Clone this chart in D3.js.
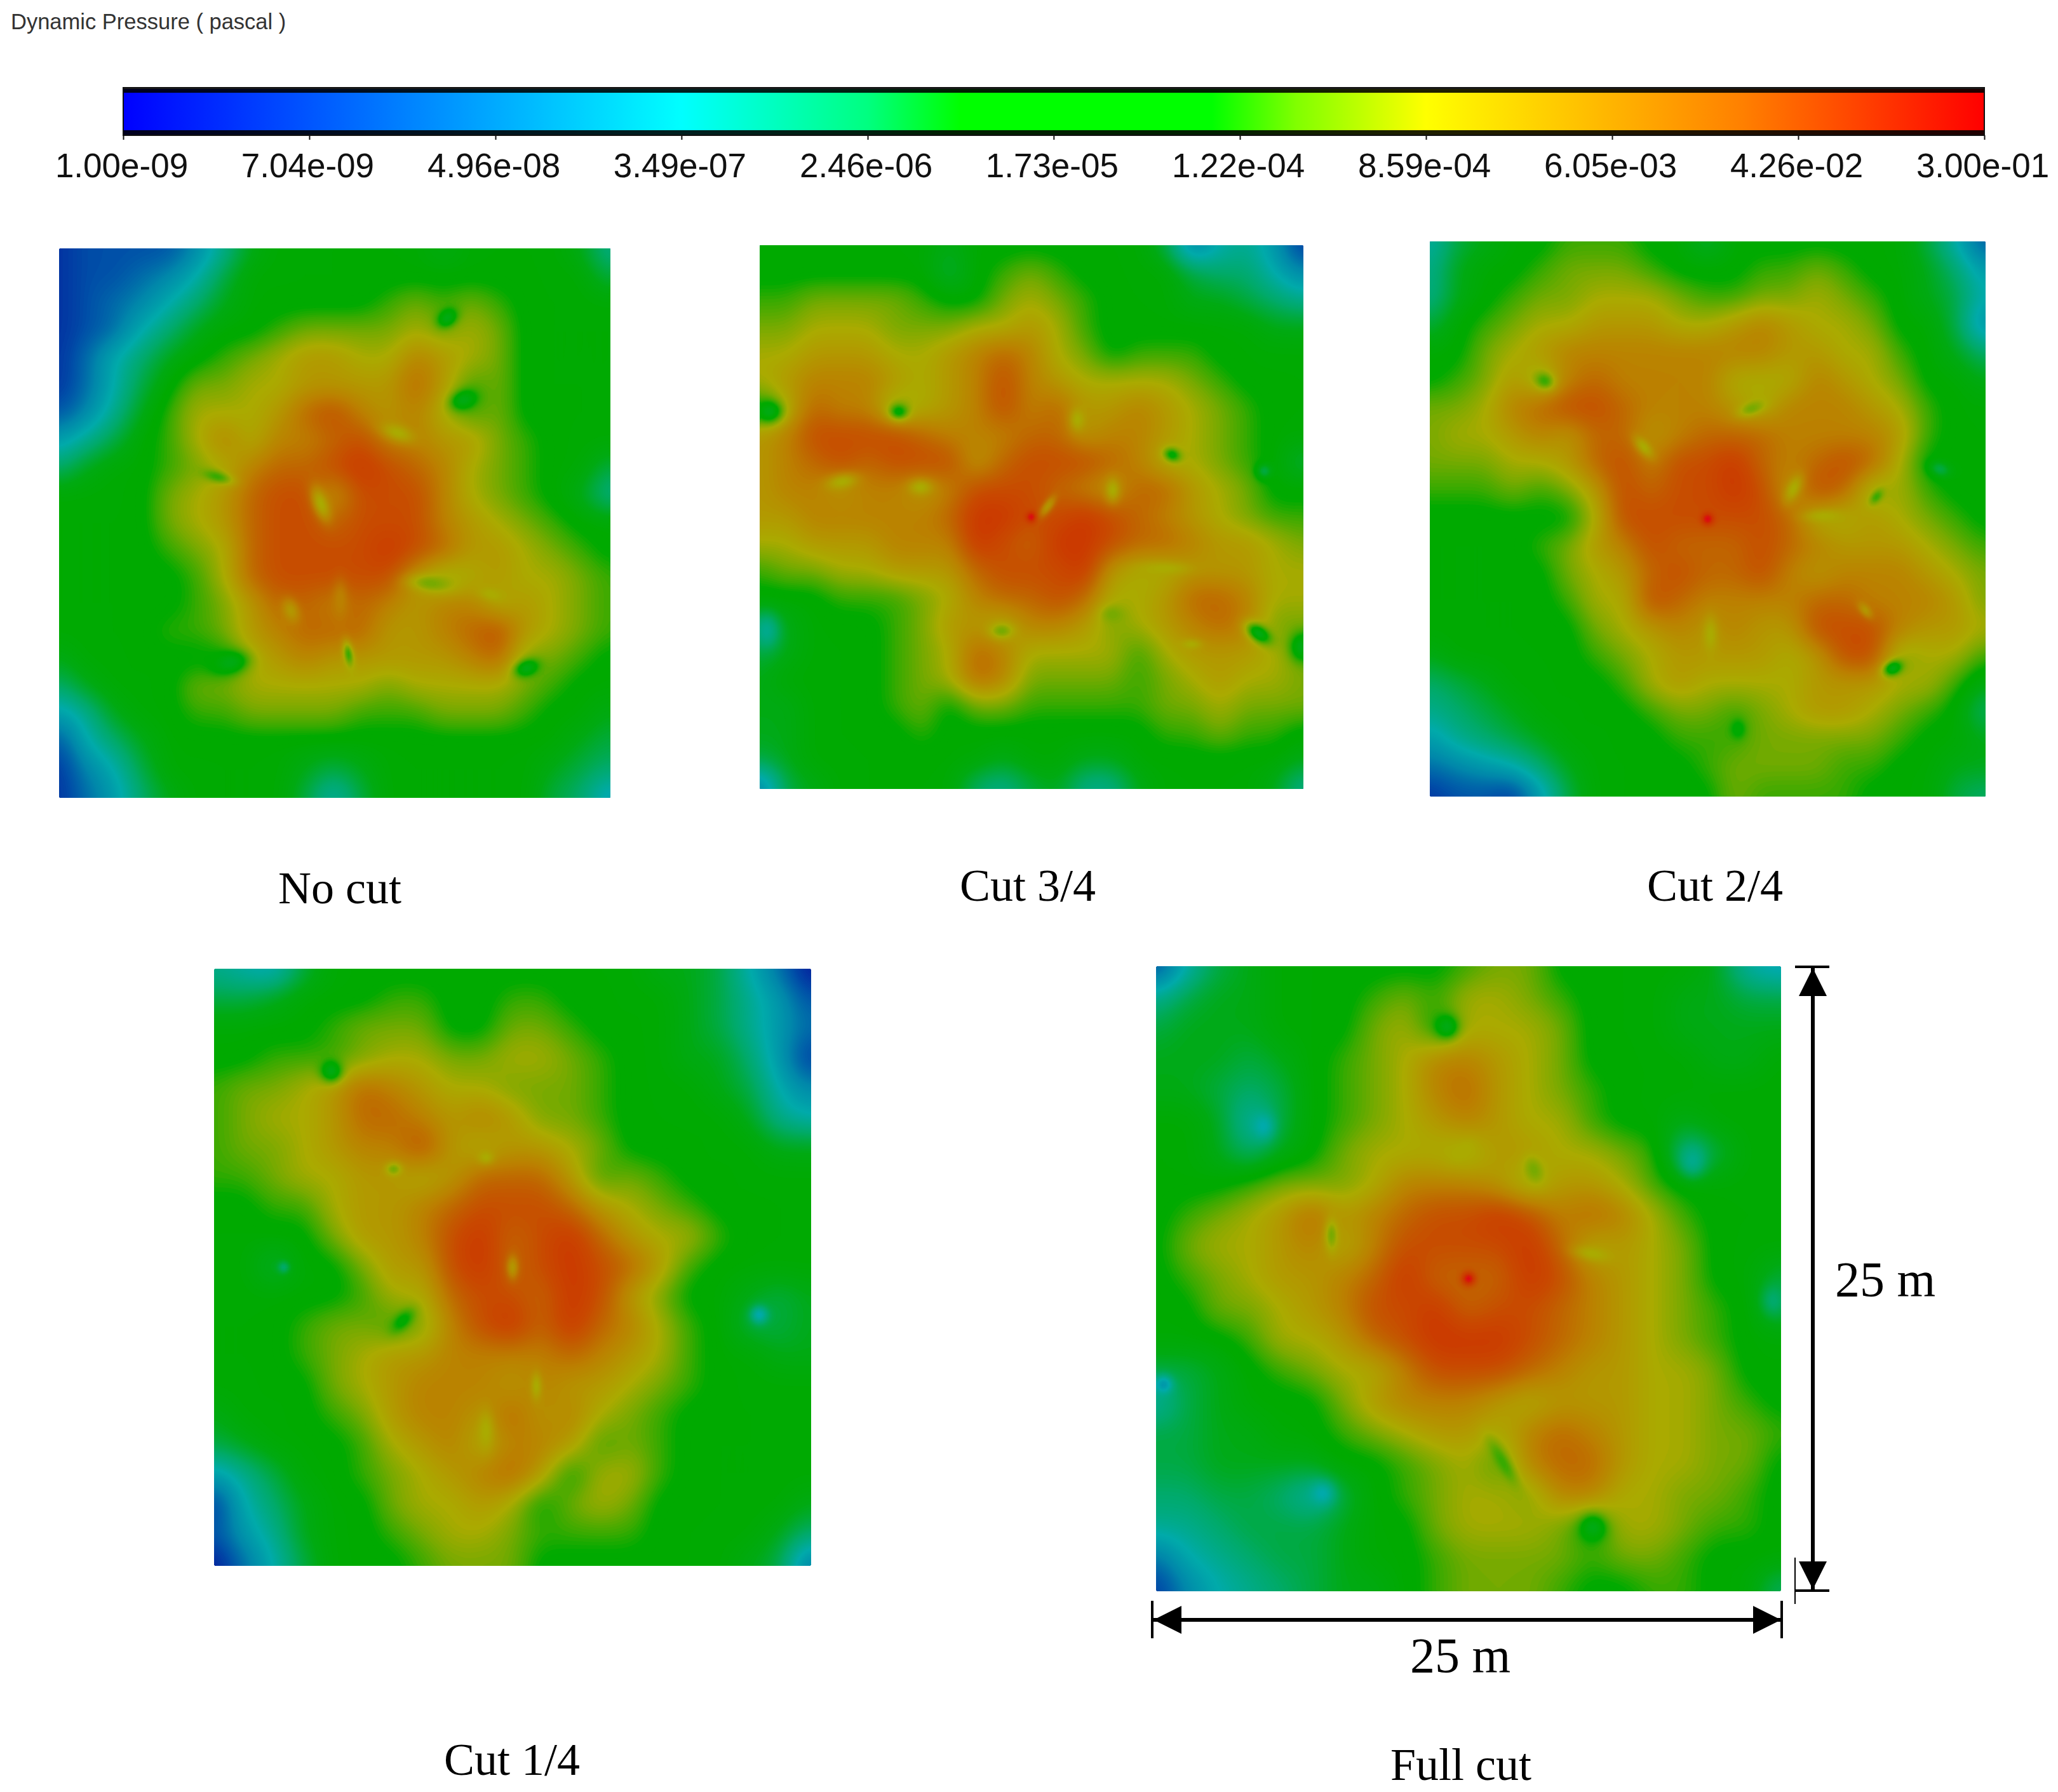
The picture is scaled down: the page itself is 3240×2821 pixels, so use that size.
<!DOCTYPE html>
<html><head><meta charset="utf-8">
<script src="https://cdn.jsdelivr.net/npm/d3@7"></script>
<style>html,body{margin:0;background:#fff}svg{display:block}</style></head>
<body><script>
const noCut=[
[1,2,2,2,2,4,7,10,11,11,11,11,11,11,10,11,11,11,11,10,7],
[1,2,2,3,4,6,9,11,11,11,11,11,11,11,11,11,11,11,11,11,9],
[1,2,3,4,6,8,10,11,11,11,11,11,12,13,12,13,12,11,11,11,11],
[1,2,3,6,8,10,11,11,12,13,13,13,13,14,13,14,13,11,11,11,11],
[1,3,6,8,10,11,12,13,14,15,15,14,14,16,15,14,13,11,11,11,11],
[1,3,6,9,11,13,13,14,14,15,15,15,15,17,15,12,13,11,11,11,11],
[2,4,7,10,12,14,14,14,15,17,18,16,15,16,14,12,13,11,11,11,11],
[5,7,9,11,12,14,16,14,16,16,17,18,16,16,15,15,13,12,11,11,11],
[8,10,11,11,12,13,14,16,17,17,18,19,18,17,16,14,13,12,11,11,9],
[11,11,11,11,13,14,15,17,18,18,15,18,18,18,16,14,13,12,11,10,7],
[11,11,11,11,13,14,15,17,18,18,17,18,18,18,16,15,14,13,12,11,11],
[11,11,11,11,12,13,14,17,18,18,18,18,19,18,17,15,15,14,13,12,11],
[11,11,11,11,11,12,14,17,18,18,18,18,18,15,13,14,15,14,14,13,12],
[11,11,11,11,11,12,13,15,17,17,16,17,16,15,16,16,14,15,14,13,12],
[11,11,11,11,12,12,13,15,16,17,17,17,15,15,16,17,18,15,14,13,12],
[10,11,11,11,11,11,11,14,15,16,15,15,15,15,15,16,17,13,13,12,11],
[8,10,11,11,11,13,13,14,14,14,14,14,13,14,14,14,14,13,12,11,11],
[5,7,10,11,11,12,12,13,13,13,13,12,12,12,13,13,13,12,11,11,10],
[2,6,8,10,11,11,11,11,11,11,11,11,11,11,11,11,11,11,11,10,9],
[1,4,6,9,11,11,11,11,11,10,9,10,11,11,11,11,11,11,10,9,8],
[1,3,5,8,10,11,11,11,11,9,6,9,11,11,11,11,11,11,9,8,5]];
const cut34=[
[11,11,11,11,11,11,11,10,11,11,11,11,11,11,11,9,3,6,7,5,1],
[11,11,11,11,11,11,11,9,11,12,13,12,11,11,11,11,9,8,8,6,4],
[12,12,13,13,13,13,12,11,11,13,14,13,12,11,11,11,10,10,9,8,7],
[13,13,14,14,14,13,13,13,14,14,15,14,12,11,11,11,11,11,11,10,10],
[14,14,15,15,15,14,14,15,16,17,16,14,13,11,12,12,12,11,11,11,11],
[14,15,16,16,16,15,14,15,16,18,16,15,14,14,14,14,13,12,11,11,11],
[11,14,17,16,16,13,14,15,16,18,16,17,15,15,16,15,14,13,12,11,11],
[15,16,18,18,18,18,17,16,16,16,17,17,15,16,16,15,14,13,12,11,11],
[15,16,17,18,17,18,18,18,15,17,18,18,18,17,16,14,14,13,12,11,9],
[15,16,16,15,16,16,15,16,18,18,18,17,16,15,17,17,15,14,13,11,11],
[15,15,16,16,16,16,16,17,19,19,18,18,19,18,17,16,15,14,13,12,12],
[14,14,15,15,15,16,16,16,19,18,17,19,19,18,17,17,16,15,15,14,13],
[12,13,13,14,14,15,15,15,17,18,18,18,19,15,14,14,15,15,15,14,14],
[11,11,11,12,12,12,13,14,16,17,17,18,17,14,14,15,17,17,16,14,14],
[9,10,11,11,11,12,13,15,15,14,16,16,15,13,14,15,16,17,16,13,13],
[9,10,11,11,11,12,13,14,17,16,14,14,14,14,12,14,15,15,15,14,13],
[10,11,11,11,11,12,13,14,17,16,13,13,13,13,12,13,14,15,14,14,13],
[10,10,11,11,11,12,13,11,13,13,12,12,12,12,12,13,13,14,13,13,13],
[10,10,11,11,11,11,12,11,11,11,11,11,11,11,11,12,12,13,12,12,11],
[9,10,11,11,11,11,11,11,11,10,11,11,10,10,11,11,11,11,11,11,10],
[3,9,10,11,11,11,11,11,8,7,9,10,7,7,10,11,11,11,11,10,7]];
const cut24=[
[6,9,10,11,11,12,12,12,11,11,9,11,11,11,11,11,11,11,9,6,2],
[7,10,11,11,12,13,13,13,12,11,11,11,12,12,13,12,11,11,10,8,5],
[7,10,11,12,13,13,14,14,14,13,12,12,13,13,14,13,12,11,10,9,6],
[9,11,12,13,14,14,15,15,15,14,14,15,16,15,14,14,13,11,11,9,4],
[11,11,13,14,15,16,16,16,16,16,16,16,16,15,15,14,14,12,11,10,8],
[11,12,13,15,13,16,17,16,16,16,16,14,14,14,16,15,14,13,11,11,10],
[13,13,14,16,17,18,18,17,16,16,16,15,14,16,16,16,15,14,12,11,11],
[13,14,14,15,16,15,17,17,15,16,17,17,17,16,16,16,16,15,12,11,11],
[13,13,13,14,14,15,17,18,16,18,18,19,17,16,17,18,17,14,11,11,11],
[12,12,12,13,12,13,15,18,17,18,18,19,18,15,18,17,13,14,12,11,11],
[11,11,11,11,11,11,14,18,18,18,18,18,18,17,14,14,15,14,13,12,11],
[11,11,11,11,12,13,15,16,18,17,17,17,18,17,16,15,15,15,14,13,12],
[11,11,11,11,11,13,14,15,17,18,17,17,18,16,15,16,16,16,15,14,13],
[11,11,11,11,11,12,14,14,18,17,16,16,16,16,17,17,16,16,16,15,13],
[11,11,11,11,11,11,13,14,15,16,15,16,15,15,18,18,18,16,15,15,14],
[10,11,11,11,11,11,12,13,14,15,15,15,15,14,15,18,18,13,14,14,12],
[8,9,10,11,11,11,11,12,14,15,14,14,14,14,15,15,15,14,14,12,10],
[7,8,9,10,11,11,11,11,12,13,13,12,13,14,15,15,14,13,12,11,8],
[5,7,8,9,10,11,11,11,11,12,12,12,13,13,13,13,13,12,11,11,10],
[3,4,5,6,8,10,11,11,11,11,12,13,13,13,13,12,12,11,11,10,10],
[1,2,2,1,5,9,11,11,11,11,11,13,12,12,12,12,11,11,11,9,8]];
const cut14=[
[7,6,5,9,11,11,11,11,11,11,11,11,11,11,11,10,10,9,6,3,0],
[9,9,10,11,11,11,12,12,11,11,12,12,11,11,11,11,10,9,7,5,2],
[11,11,11,11,12,13,13,13,11,11,13,13,12,11,11,11,10,9,7,5,3],
[11,11,12,12,12,13,14,14,13,13,14,14,13,12,11,11,10,10,8,5,1],
[12,13,13,14,15,17,16,15,14,14,13,13,13,12,11,11,11,10,9,6,4],
[12,13,14,14,15,17,17,16,15,16,15,13,13,12,11,11,11,11,10,7,6],
[12,13,13,14,15,16,16,18,15,14,15,15,14,13,11,11,11,11,11,10,10],
[12,12,13,14,14,15,15,14,15,17,17,17,15,12,13,12,11,11,11,11,11],
[11,11,12,12,14,15,15,16,17,18,18,18,17,15,14,13,12,11,11,11,11],
[11,11,11,11,13,15,15,16,18,19,17,18,19,17,15,14,14,12,11,11,11],
[11,11,9,11,11,13,15,15,18,19,17,18,19,18,17,15,12,11,11,11,11],
[11,11,11,11,11,12,14,14,17,18,18,17,19,18,15,13,11,11,10,9,10],
[11,11,11,12,13,13,12,13,16,18,19,17,19,17,16,14,12,11,9,9,10],
[11,11,11,12,13,14,15,15,16,16,16,16,17,16,15,14,12,11,11,10,10],
[11,11,11,11,13,14,15,16,16,16,15,16,15,15,14,13,12,11,11,11,11],
[10,11,11,11,12,13,15,16,16,15,17,15,16,14,13,12,11,11,11,11,11],
[9,10,11,11,11,12,14,15,16,14,16,16,15,12,13,12,11,11,11,11,11],
[5,7,9,11,11,12,13,14,15,16,17,15,11,14,14,12,11,11,11,11,11],
[1,6,8,10,11,11,13,14,14,15,14,11,13,14,13,11,11,11,11,11,10],
[2,5,7,10,11,11,12,13,14,14,13,12,12,12,12,11,11,11,11,10,8],
[0,3,6,9,11,11,11,12,13,13,13,11,11,11,11,11,11,11,10,9,3]];
const fullCut=[
[1,6,9,10,11,11,11,11,11,11,12,13,13,11,11,11,11,11,10,6,5],
[7,9,10,10,11,11,11,12,13,12,14,14,13,12,11,11,11,10,10,9,9],
[9,10,10,10,11,11,11,13,14,11,14,14,14,13,11,11,11,10,10,10,10],
[10,10,10,9,10,11,12,13,14,16,16,15,14,13,11,11,11,11,10,10,11],
[10,10,9,8,9,11,12,13,14,16,17,15,14,13,12,11,11,11,11,11,11],
[11,11,10,6,9,11,12,13,14,15,16,15,14,14,12,11,11,10,11,11,11],
[11,11,10,8,10,11,13,14,14,14,13,15,15,14,14,13,12,7,9,11,11],
[11,11,11,12,13,13,13,14,16,16,16,15,13,15,15,14,12,11,11,11,11],
[11,12,13,14,15,17,15,16,17,18,18,19,18,16,17,16,14,12,11,11,11],
[11,13,14,14,15,16,14,16,18,18,18,18,19,17,14,15,14,13,11,11,11],
[11,12,13,14,15,15,16,17,19,17,17,17,19,18,16,15,14,13,11,11,9],
[11,11,13,13,14,15,16,18,18,19,17,18,18,17,16,15,14,13,12,11,9],
[11,11,11,12,14,14,15,17,18,19,19,19,18,17,16,15,14,13,12,11,11],
[9,9,10,11,12,13,14,14,16,18,18,18,17,16,15,15,14,14,13,11,11],
[6,9,10,11,11,11,13,15,16,16,16,15,14,15,15,15,14,14,13,12,11],
[9,9,10,10,11,11,12,13,14,15,15,14,16,17,16,15,14,14,13,13,12],
[9,9,10,10,10,10,11,11,12,13,14,12,16,17,17,15,14,14,13,13,11],
[8,8,9,9,8,6,9,11,12,13,14,14,13,16,16,14,14,13,13,12,11],
[7,7,8,9,9,9,10,11,11,13,14,14,14,13,11,14,14,13,12,12,11],
[3,6,7,8,9,9,10,11,11,12,13,13,13,13,12,13,13,12,11,11,11],
[1,4,6,7,8,9,10,10,11,12,13,13,13,12,11,11,12,12,11,11,8]];

// Small local features: [column, row, value, radius in grid cells, elongation, angle in degrees]
const noCutSpots=[[14.1,2.5,10,.3,1.3,-40],[14.7,5.5,10,.35,1.4,-20],[17,15.3,10,.3,1.5,-20],[6.2,15.1,10,.4,1.6,-10],[9.5,9.3,14,.28,2.2,70],[12.3,6.7,14,.3,2,20],[13.5,12.2,13,.3,2.5,5],[8.4,13.2,15,.3,1.5,70],[15.7,12.6,14,.22,2,15],[10.5,14.8,12,.18,2.5,80],[5.7,8.3,12,.22,2.5,15],[10.2,12.8,16,.28,2.5,90]];
const cut34Spots=[[10,10,20,.2,1,0],[10.6,9.6,15,.18,2.5,-55],[18.4,14.3,10,.3,1.7,35],[20,14.8,10,.45,1.2,90],[.3,6.1,10,.4,1.2,0],[5.1,6.1,11,.3,1.2,0],[15.2,7.7,11,.25,1.3,20],[11.7,6.4,14,.28,1.5,90],[18.6,8.3,9,.28,1,0],[.2,14.2,7,.5,1.3,90],[3,8.7,14,.28,2,-10],[14.9,11.9,14,.22,4,0],[8.9,14.2,13,.28,1.5,0],[13,13.6,13,.32,1.3,0],[13,9,14,.26,1.6,90],[15.9,14.7,14,.18,2,0],[5.9,8.9,14,.28,1.5,0]];
const cut24Spots=[[10,10,20,.22,1,0],[16.7,15.4,10,.26,1.4,-25],[4.1,5,12,.3,1.2,25],[16.1,9.2,12,.18,1.7,-50],[13.1,8.9,14,.25,2,-65],[14.2,9.9,14,.22,3,0],[10.1,14.2,14,.25,2.5,90],[11.1,17.6,11,.28,1.3,90],[18.4,8.2,9,.28,1.4,20],[7.7,7.4,14,.22,2,50],[11.6,6,13,.25,2,-20],[15.7,13.3,15,.18,1.8,50]];
const cut14Spots=[[3.9,3.4,10,.36,1,0],[2.3,10,8,.2,1,0],[18.3,11.6,6,.3,1,0],[6.3,11.8,11,.26,1.8,-45],[10,10,15,.2,2,90],[9.1,15.5,14,.25,2.5,90],[9.1,6.3,14,.22,1.2,0],[6,6.7,13,.22,1.2,0],[10.8,14,14,.18,2.5,90]];
const fullCutSpots=[[10,10,20,.22,1,0],[9.3,1.9,10,.36,1,0],[14,18,10,.4,1,0],[3.4,5.1,6,.35,1.2,90],[17.2,6.2,7,.42,1.2,90],[5.3,16.9,6,.38,1,0],[.2,13.4,5,.28,1,0],[19.8,10.7,8,.38,1.3,90],[12.1,6.5,13,.28,1.5,70],[5.6,8.6,13,.2,2.5,90],[11.1,15.9,12,.22,3.5,60],[14,9.2,14,.22,2.5,10],[9.8,5.9,14,.2,2,-40]];

const panelNames=["No cut","Cut 3/4","Cut 2/4","Cut 1/4","Full cut"];
const panelFields=[noCut,cut34,cut24,cut14,fullCut];
const panelSpots=[noCutSpots,cut34Spots,cut24Spots,cut14Spots,fullCutSpots];
const panelBoxes=[[93,391,961,1256],[1196,386,2052,1242],[2251,380,3126,1254],[337,1525,1277,2465],[1820,1521,2804,2505]];
const captionPos=[[535,1399],[1618,1395],[2700,1395],[806,2771],[2300,2779]];

const tickValues=[1e-9,7.04e-9,4.96e-8,3.49e-7,2.46e-6,1.73e-5,1.22e-4,8.59e-4,6.05e-3,4.26e-2,3e-1];
const tickLabels=["1.00e-09","7.04e-09","4.96e-08","3.49e-07","2.46e-06","1.73e-05","1.22e-04","8.59e-04","6.05e-03","4.26e-02","3.00e-01"];
const legendStops=[0,1.5,3,4,4.5,5.85,6.3,7,8.7,10];
const legendColors=["#0000ff","#0080ff","#00ffff","#00ff80","#00ff00","#00ff00","#80ff00","#ffff00","#ff8000","#ff0000"];
const fieldStops=[0,2,4,6,8,10,11,11.35,12,13,14,15,16,17,18,19,20];
const fieldColors=["#06129a","#0050a8","#0088aa","#00aaaa","#00aa6a","#00aa12","#00aa00","#00aa00","#38aa00","#78aa00","#aaaa00","#b39600","#bb8000","#c06400","#c84a00","#cc3400","#e00018"];

const W=3240,H=2821;
const svg=d3.select("body").append("svg").attr("width",W).attr("height",H).attr("viewBox",[0,0,W,H]);
svg.append("rect").attr("width",W).attr("height",H).attr("fill","#fff");
const sans="'Liberation Sans',Arial,sans-serif", serif="'Liberation Serif','Times New Roman',serif";

svg.append("text").attr("x",17).attr("y",46).attr("font-family",sans).attr("font-size",34.5).attr("fill","#333").text("Dynamic Pressure ( pascal )");

// colour bar
const legendX=d3.scaleLog().domain([1e-9,0.3]).range([194,3124]);
const defs=svg.append("defs");
const grad=defs.append("linearGradient").attr("id","bar");
legendStops.forEach((s,i)=>grad.append("stop").attr("offset",s/10).attr("stop-color",legendColors[i]));
svg.append("rect").attr("x",194).attr("y",140).attr("width",2930).attr("height",73).attr("fill","url(#bar)");
svg.append("rect").attr("x",194).attr("y",138).attr("width",2930).attr("height",8).attr("fill","#000").attr("opacity",.88);
svg.append("rect").attr("x",194).attr("y",205).attr("width",2930).attr("height",8).attr("fill","#000").attr("opacity",.88);
svg.append("rect").attr("x",194).attr("y",138).attr("width",2930).attr("height",75).attr("fill","none").attr("stroke","#111").attr("stroke-width",2);
const axis=svg.append("g").attr("transform","translate(0,213)")
  .call(d3.axisBottom(legendX).tickValues(tickValues).tickFormat((d,i)=>tickLabels[i]).tickSize(7).tickSizeOuter(0));
axis.select(".domain").remove();
axis.selectAll("line").attr("stroke","#111").attr("stroke-width",2);
axis.selectAll("text").attr("font-family",sans).attr("font-size",53).attr("fill","#111").attr("y",0).attr("dy","1.24em").attr("dx",-3);

// panels
const fieldColor=d3.scaleLinear().domain(fieldStops).range(fieldColors).clamp(true);
const K=12;
const levels=d3.range(0,20.001,.125);
panelFields.forEach((field,p)=>{
  const n=field.length, m=(n-1)*K+1;
  const data=new Float64Array(m*m);
  for(let j=0;j<m;j++)for(let i=0;i<m;i++)data[j*m+i]=field[Math.round(j/K)][Math.round(i/K)];
  d3.blur2({data,width:m,height:m},K*.42);
  panelSpots[p].forEach(([c,r,v,rad,ratio,deg])=>{
    const R=rad*K, lim=Math.ceil(R*ratio*3), a=deg*Math.PI/180, ca=Math.cos(a), sa=Math.sin(a);
    for(let j=Math.max(0,Math.round(r*K)-lim);j<=Math.min(m-1,Math.round(r*K)+lim);j++)
      for(let i=Math.max(0,Math.round(c*K)-lim);i<=Math.min(m-1,Math.round(c*K)+lim);i++){
        const dx=i-c*K, dy=j-r*K, u=(dx*ca+dy*sa)/(R*ratio), t=(-dx*sa+dy*ca)/R, q2=u*u+t*t;
        data[j*m+i]+=(v-data[j*m+i])*Math.exp(-q2);
      }
  });
  const [x0,y0,x1,y1]=panelBoxes[p];
  const xs=d3.scaleLinear().domain([0,m]).range([x0,x1]);
  const ys=d3.scaleLinear().domain([0,m]).range([y0,y1]);
  const path=d3.geoPath(d3.geoTransform({point(x,y){this.stream.point(xs(x),ys(y));}}));
  const contours=d3.contours().size([m,m]).smooth(true).thresholds(levels)(data);
  const g=svg.append("g").attr("class","panel");
  g.selectAll("path").data(contours).join("path").attr("d",path).attr("fill",d=>fieldColor(d.value));
  svg.append("text").attr("x",captionPos[p][0]).attr("y",captionPos[p][1]).attr("text-anchor","middle")
    .attr("font-family",serif).attr("font-size",72).attr("fill","#000").attr("dy",".32em").text(panelNames[p]);
});

// dimension lines for the 25 m x 25 m domain
defs.append("marker").attr("id","ah").attr("viewBox","0 0 10 10").attr("refX",10).attr("refY",5)
  .attr("markerUnits","userSpaceOnUse").attr("markerWidth",44).attr("markerHeight",44).attr("orient","auto-start-reverse")
  .append("path").attr("d","M0,0L10,5L0,10Z").attr("fill","#000");
const dim=svg.append("g").attr("stroke","#000").attr("fill","none");
dim.append("line").attr("x1",2854).attr("y1",1524).attr("x2",2854).attr("y2",2502).attr("stroke-width",6).attr("marker-start","url(#ah)").attr("marker-end","url(#ah)");
dim.append("line").attr("x1",1816).attr("y1",2550).attr("x2",2804).attr("y2",2550).attr("stroke-width",6).attr("marker-start","url(#ah)").attr("marker-end","url(#ah)");
[[2826,1522,2880,1522],[2826,2504,2880,2504],[1814,2520,1814,2579],[2805,2520,2805,2579]].forEach(d=>
  dim.append("line").attr("x1",d[0]).attr("y1",d[1]).attr("x2",d[2]).attr("y2",d[3]).attr("stroke-width",4));
dim.append("line").attr("x1",2826).attr("y1",2452).attr("x2",2826).attr("y2",2525).attr("stroke-width",2);
[["25 m",2968,2015],["25 m",2299,2607]].forEach(d=>svg.append("text").attr("x",d[1]).attr("y",d[2]).attr("text-anchor","middle").attr("dy",".32em")
  .attr("font-family",serif).attr("font-size",78).attr("fill","#000").text(d[0]));
</script></body></html>
